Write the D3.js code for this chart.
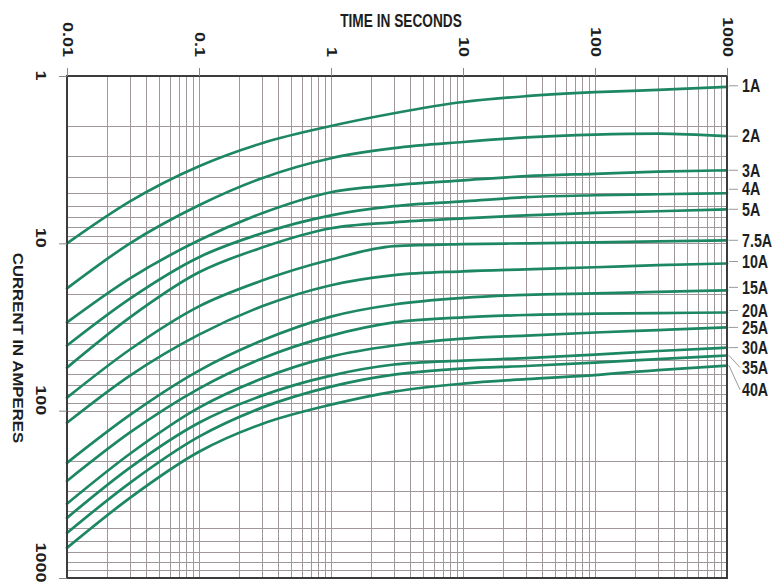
<!DOCTYPE html>
<html>
<head>
<meta charset="utf-8">
<script src="https://cdn.jsdelivr.net/npm/d3@7"></script>
<style>
  html, body { margin: 0; padding: 0; background: #ffffff; }
  svg { display: block; }
</style>
</head>
<body>
<svg id="chart" width="773" height="586"></svg>
<script>
// Time-current characteristics of a fuse family: melting time (s) vs. current (A)

// Sample times (seconds) shared by every curve
const times = [0.01, 0.03, 0.1, 0.3, 1, 3, 10, 30, 100, 300, 1000];

// Current (A) at each sample time, one array per fuse rating
const amps1A   = [10.0, 5.61, 3.46, 2.52, 1.99, 1.67, 1.43, 1.32, 1.25, 1.21, 1.16];
const amps2A   = [18.6, 10.0, 5.92, 4.08, 3.10, 2.70, 2.48, 2.33, 2.24, 2.21, 2.29];
const amps3A   = [29.7, 16.2, 9.59, 6.61, 4.95, 4.49, 4.20, 3.97, 3.84, 3.73, 3.66];
const amps4A   = [40.8, 21.4, 12.1, 8.71, 6.80, 6.00, 5.61, 5.30, 5.16, 5.09, 5.02];
const amps5A   = [55.3, 27.7, 14.9, 10.6, 8.13, 7.49, 7.09, 6.80, 6.57, 6.43, 6.26];
const amps7_5A = [83.6, 43.1, 23.8, 16.7, 12.5, 10.4, 10.1, 10.0, 9.86, 9.73, 9.59];
const amps10A  = [118, 61.7, 35.1, 23.8, 17.8, 15.5, 14.7, 14.3, 13.9, 13.5, 13.2];
const amps15A  = [205, 106, 57.6, 38.1, 27.4, 23.2, 21.2, 20.3, 19.9, 19.5, 19.1];
const amps20A  = [263, 135, 73.8, 48.8, 35.6, 29.7, 27.7, 26.8, 26.3, 26.1, 25.9];
const amps25A  = [360, 181, 95.9, 64.3, 47.5, 40.8, 37.1, 35.6, 34.1, 33.0, 31.8];
const amps30A  = [437, 219, 118, 81.3, 61.7, 53.0, 50.2, 48.5, 46.2, 44.0, 42.0];
const amps35A  = [538, 270, 143, 95.9, 71.8, 60.9, 56.0, 54.1, 51.6, 49.2, 46.8];
const amps40A  = [661, 332, 176, 120, 92.1, 76.9, 68.9, 64.8, 61.3, 57.2, 53.8];

const ratingLabels = ["1A", "2A", "3A", "4A", "5A", "7.5A", "10A", "15A", "20A", "25A", "30A", "35A", "40A"];
const ratingValues = [amps1A, amps2A, amps3A, amps4A, amps5A, amps7_5A, amps10A,
                      amps15A, amps20A, amps25A, amps30A, amps35A, amps40A];

// Axis tick labels
const timeTicks = [0.01, 0.1, 1, 10, 100, 1000];
const timeTickLabels = ["0.01", "0.1", "1", "10", "100", "1000"];
const currentTicks = [1, 10, 100, 1000];
const currentTickLabels = ["1", "10", "100", "1000"];

// ---- layout ----
const plot = { left: 67, right: 727, top: 76, bottom: 578 };
const curveColor = "#1d8765";
const gridColor = "#9f979a";
const frameColor = "#3c3c3c";
const textFont = "'Liberation Sans', 'DejaVu Sans', sans-serif";
// vertical nudges (px) that keep the stacked rating labels apart
const labelShift = { "1A": -1, "4A": -4, "10A": -2, "15A": -3, "20A": -2, "35A": 12, "40A": 24 };

const svg = d3.select("#chart");

const x = d3.scaleLog().domain([0.01, 1000]).range([plot.left, plot.right]);
const y = d3.scaleLog().domain([1, 1000]).range([plot.top, plot.bottom]);

// ---- grid ----
const grid = svg.append("g").attr("class", "grid");
grid.selectAll("line.vx")
  .data(x.ticks())
  .join("line")
  .attr("x1", d => Math.round(x(d)) + 0.5).attr("x2", d => Math.round(x(d)) + 0.5)
  .attr("y1", plot.top).attr("y2", plot.bottom)
  .attr("stroke", gridColor).attr("stroke-width", 1);
grid.selectAll("line.hy")
  .data(y.ticks())
  .join("line")
  .attr("y1", d => Math.round(y(d)) + 0.5).attr("y2", d => Math.round(y(d)) + 0.5)
  .attr("x1", plot.left).attr("x2", plot.right)
  .attr("stroke", gridColor).attr("stroke-width", 1);

// ---- curves ----
const line = d3.line()
  .x(d => x(d[0]))
  .y(d => y(d[1]))
  .curve(d3.curveMonotoneX);

const curves = ratingLabels.map((name, i) => ({
  name,
  points: times.map((t, j) => [t, ratingValues[i][j]])
}));

svg.append("g").attr("class", "curves")
  .selectAll("path")
  .data(curves)
  .join("path")
  .attr("d", d => line(d.points))
  .attr("fill", "none")
  .attr("stroke", curveColor)
  .attr("stroke-width", 2.7)
  .attr("stroke-linejoin", "round")
  .attr("stroke-linecap", "round");

// ---- frame ----
svg.append("rect")
  .attr("x", plot.left).attr("y", plot.top)
  .attr("width", plot.right - plot.left).attr("height", plot.bottom - plot.top)
  .attr("fill", "none").attr("stroke", frameColor).attr("stroke-width", 2);

// ---- time axis (top) ----
const xAxis = svg.append("g")
  .attr("transform", `translate(0,${plot.top})`)
  .call(d3.axisTop(x).tickValues(timeTicks).tickSize(8)
        .tickFormat((d, i) => timeTickLabels[i]));
xAxis.select(".domain").remove();
xAxis.selectAll(".tick line").attr("stroke", "#888").attr("stroke-width", 1);
xAxis.selectAll(".tick text")
  .attr("x", 0).attr("y", 0).attr("dy", null)
  .attr("text-anchor", "end")
  .attr("dominant-baseline", "central")
  .attr("transform", "translate(0,-19) rotate(90) scale(1.2,1)")
  .attr("font-family", textFont)
  .attr("font-weight", "bold")
  .attr("font-size", 15)
  .attr("fill", "#1e1e1e");

// ---- current axis (left) ----
const yAxis = svg.append("g")
  .attr("transform", `translate(${plot.left},0)`)
  .call(d3.axisLeft(y).tickValues(currentTicks).tickSize(8)
        .tickFormat((d, i) => currentTickLabels[i]));
yAxis.select(".domain").remove();
yAxis.selectAll(".tick line").attr("stroke", "#888").attr("stroke-width", 1);
yAxis.selectAll(".tick text")
  .attr("x", 0).attr("y", 0).attr("dy", null)
  .attr("text-anchor", "end")
  .attr("dominant-baseline", "central")
  .attr("transform", "translate(-26,4) rotate(90) scale(1.2,1)")
  .attr("font-family", textFont)
  .attr("font-weight", "bold")
  .attr("font-size", 15)
  .attr("fill", "#1e1e1e");

// ---- axis titles ----
svg.append("text")
  .attr("text-anchor", "middle")
  .attr("transform", "translate(401,27) scale(0.74,1)")
  .attr("font-family", textFont)
  .attr("font-weight", "bold")
  .attr("font-size", 18.5)
  .attr("fill", "#1e1e1e")
  .text("TIME IN SECONDS");

svg.append("text")
  .attr("text-anchor", "middle")
  .attr("dominant-baseline", "central")
  .attr("transform", "translate(18,348) rotate(90) scale(1.12,1)")
  .attr("font-family", textFont)
  .attr("font-weight", "bold")
  .attr("font-size", 15)
  .attr("fill", "#1e1e1e")
  .text("CURRENT IN AMPERES");

// ---- rating labels at the right end of each curve ----
const lastT = times[times.length - 1];
const labelG = svg.append("g").attr("class", "rating-labels");
curves.forEach(c => {
  const endY = y(c.points[c.points.length - 1][1]);
  const shift = labelShift[c.name] || 0;
  const ly = endY + shift;
  if (Math.abs(shift) > 6) {
    labelG.append("line")
      .attr("x1", x(lastT) + 2).attr("y1", endY)
      .attr("x2", 740).attr("y2", ly)
      .attr("stroke", "#9a9a9a").attr("stroke-width", 1);
  } else {
    labelG.append("line")
      .attr("x1", x(lastT) + 2).attr("y1", ly)
      .attr("x2", 738).attr("y2", ly)
      .attr("stroke", "#9a9a9a").attr("stroke-width", 1);
  }
  labelG.append("text")
    .attr("x", 0).attr("y", 0)
    .attr("dominant-baseline", "central")
    .attr("transform", `translate(742,${ly}) scale(0.75,1)`)
    .attr("font-family", textFont)
    .attr("font-weight", "bold")
    .attr("font-size", 19)
    .attr("fill", "#1e1e1e")
    .text(c.name);
});
</script>
</body>
</html>
